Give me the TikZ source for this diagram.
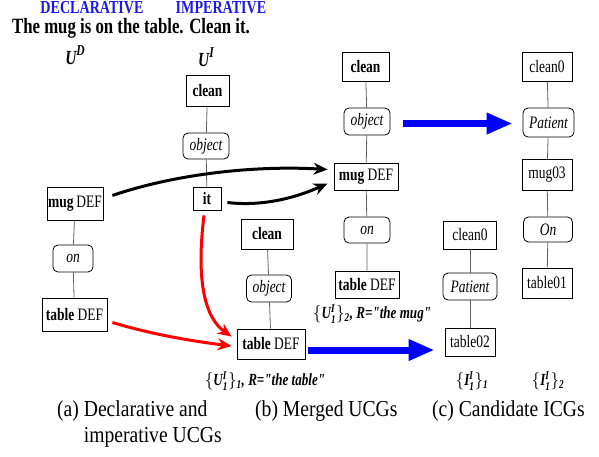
\documentclass[tikz,border=0pt]{standalone}
\usepackage{amsmath}
\usepackage{fontspec}
\setmainfont{Liberation Serif}[FakeStretch=0.77]
\newfontfamily\capfont{Liberation Serif}[FakeStretch=0.86]
\newfontfamily\labfamily{Liberation Serif}[FakeStretch=0.77, Ligatures=TeXOff]
\usetikzlibrary{arrows.meta, calc}
\definecolor{hdrblue}{RGB}{25,25,235}
\definecolor{linkgray}{RGB}{95,95,95}
\newcommand{\nodefont}{\fontsize{17.5}{20}\selectfont}
\newcommand{\labfont}{\labfamily\fontsize{17}{19}\selectfont\bfseries\itshape}
\newcommand{\ucgset}[3]{$\{\textit{#1}^{\textit{I}}_{\textit{1}}\}_{\textit{#2}}$#3}

\tikzset{
  ucg/.style={draw, line width=0.8pt, inner sep=1pt, minimum height=29pt, font=\nodefont},
  rel/.style={ucg, rounded corners=5pt, minimum height=26pt, font=\nodefont\itshape},
  link/.style={draw=linkgray, line width=0.8pt},
  setlabel/.style={font=\labfont, inner sep=0pt},
  mergearrow/.style={line width=3pt, -{Stealth[length=14pt,width=12pt]}},
  bigarrow/.style={draw=blue, line width=7pt, -{Triangle[length=26pt,width=20pt]}},
  hdr/.style={font=\fontsize{18.3}{20}\selectfont\bfseries, text=hdrblue, inner sep=1pt},
}

\begin{document}
\begin{tikzpicture}[x=1pt, y=-1pt]
    \useasboundingbox (0,0) rectangle (599,456);

    % utterances
    \node[hdr] (declHdr) at (92,8) {DECLARATIVE};
    \node[hdr] (impHdr) at (221,8) {IMPERATIVE};
    \node[font=\fontsize{21.8}{24}\selectfont\bfseries, inner sep=1pt] (sentence) at (131,28) {The mug is on the table. Clean it.};
    \node[font=\fontsize{20}{22}\selectfont\bfseries\itshape] (uD) at (75,55) {U\raisebox{0.45em}{\fontsize{15}{15}\selectfont D}};
    \node[font=\fontsize{20}{22}\selectfont\bfseries\itshape] (uI) at (206,57) {U\raisebox{0.45em}{\fontsize{15}{15}\selectfont I}};

    % (a) declarative and imperative UCGs
    \node[ucg, minimum width=56pt, minimum height=33pt] (dMug) at (75,203.5) {\textbf{mug}\,DEF};
    \node[rel, minimum width=40pt, minimum height=27pt] (dOn) at (73,258.5) {on};
    \node[ucg, minimum width=65pt, minimum height=33pt] (dTable) at (74.5,314.5) {\textbf{table} DEF};
    \node[ucg, minimum width=43pt, minimum height=31pt] (iClean) at (207.5,90.5) {\textbf{clean}};
    \node[rel, minimum width=46pt] (iObj) at (206,146) {object};
    \node[ucg, minimum width=28pt, minimum height=23pt] (iIt) at (207,198.5) {\textbf{it}};
    \draw[link] (dMug) -- (dOn) -- (dTable);
    \draw[link] (iClean) -- (iObj) -- (iIt);

    % (b) merged UCGs
    \node[ucg, minimum width=52pt, minimum height=30pt] (mClean1) at (267,234) {\textbf{clean}};
    \node[rel, minimum width=45pt, minimum height=27pt] (mObj1) at (269,288.5) {object};
    \node[ucg, minimum width=68pt, minimum height=30pt] (mTable1) at (271,344) {\textbf{table} DEF};
    \draw[link] (mClean1) -- (mObj1) -- (mTable1);
    \node[setlabel] (mLab1) at (265,381) {\ucgset{U}{1}{, R="the table"}};

    \node[ucg, minimum width=47pt] (mClean2) at (365.5,66.5) {\textbf{clean}};
    \node[rel, minimum width=46pt, minimum height=27pt] (mObj2) at (367,121.5) {object};
    \node[ucg, minimum width=64pt, minimum height=27pt] (mMug2) at (366,176.5) {\textbf{mug} DEF};
    \node[rel, minimum width=46pt] (mOn2) at (367,230) {on};
    \node[ucg, minimum width=64pt, minimum height=27pt] (mTable2) at (367,284.5) {\textbf{table} DEF};
    \draw[link] (mClean2) -- (mObj2) -- (mMug2) -- (mOn2) -- (mTable2);
    \node[setlabel] (mLab2) at (372,314) {\ucgset{U}{2}{, R="the mug"}};

    % (c) candidate ICGs
    \node[ucg, minimum width=53pt, minimum height=28pt] (cClean1) at (470,235) {clean0};
    \node[rel, minimum width=54pt, minimum height=27pt] (cPat1) at (470,286.5) {Patient};
    \node[ucg, minimum width=50pt, minimum height=28pt] (cTable1) at (470,342) {table02};
    \draw[link] (cClean1) -- (cPat1) -- (cTable1);
    \node[setlabel] (cLab1) at (472,381) {\ucgset{I}{1}{}};

    \node[ucg, minimum width=50pt] (cClean2) at (547,66.5) {clean0};
    \node[rel, minimum width=51pt, minimum height=29pt] (cPat2) at (548.5,122.5) {Patient};
    \node[ucg, minimum width=50pt, minimum height=31pt] (cMug) at (547,175) {mug03};
    \node[rel, minimum width=49pt, minimum height=25pt] (cOn) at (548,229.5) {On};
    \node[ucg, minimum width=50pt, minimum height=30pt] (cTable2) at (547,283) {table01};
    \draw[link] (cClean2) -- (cPat2) -- (cMug) -- (cOn) -- (cTable2);
    \node[setlabel] (cLab2) at (548,381) {\ucgset{I}{2}{}};

    % merging arrows
    \draw[mergearrow] ($(dMug.east)+(9,-8)$) .. controls +(58,-20) and +(-78,-4.5) .. ($(mMug2.west)+(-6,-7)$);
    \draw[mergearrow] ($(iIt.east)+(6,4)$) .. controls +(38,4.5) and +(-28,12.5) .. ($(mMug2.west)+(-6,7)$);
    \draw[mergearrow, red] ($(iIt.south)+(-3,5)$) .. controls +(-8,65) and +(-27,-19) .. ($(mTable1.north west)+(-5,8)$);
    \draw[mergearrow, red] ($(dTable.east)+(5,8)$) .. controls +(40,12) and +(-40,-5) .. ($(mTable1.west)+(-5,2)$);

    % interpretation arrows
    \draw[bigarrow, shorten <=13pt, shorten >=10pt] ([yshift=-2pt]mObj2.east) -- ([yshift=-2pt]mObj2.east -| cPat2.west);
    \draw[bigarrow, shorten <=3pt, shorten >=10pt] ([yshift=-6pt]mTable1.east) -- ([yshift=-6pt]mTable1.east -| cTable1.west);

    % captions
    \node[font=\capfont\fontsize{22.8}{26}\selectfont, anchor=north west, align=left, inner sep=0pt] (capA) at (57,400) {(a) Declarative and\\\hphantom{(a)~}imperative UCGs};
    \node[font=\capfont\fontsize{22.8}{26}\selectfont, anchor=north west, inner sep=0pt] (capB) at (255,400) {(b) Merged UCGs};
    \node[font=\capfont\fontsize{22.8}{26}\selectfont, anchor=north west, inner sep=0pt] (capC) at (432,400) {(c) Candidate ICGs};
\end{tikzpicture}
\end{document}
